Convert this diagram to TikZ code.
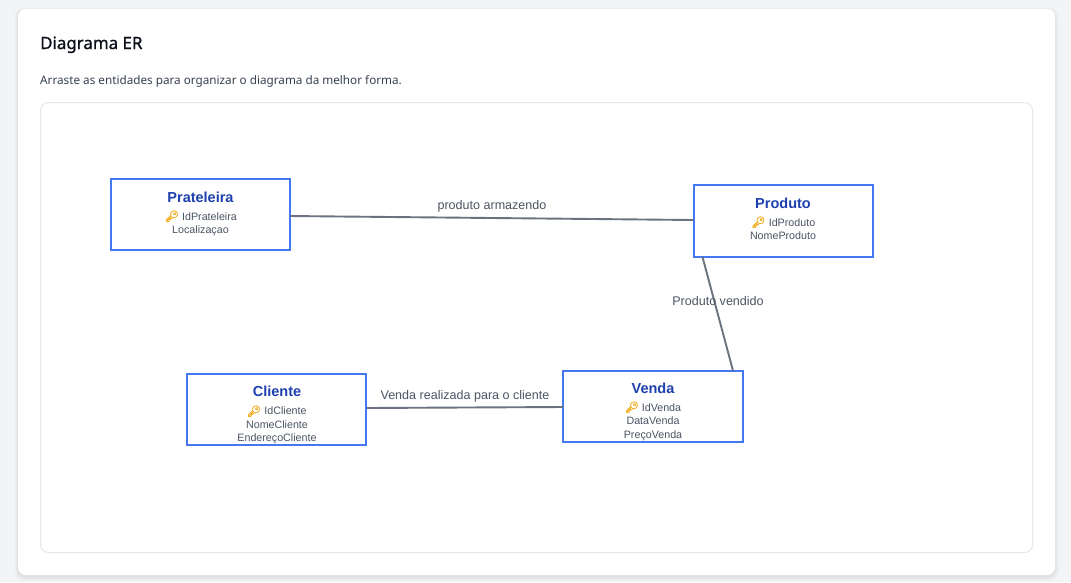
\documentclass[tikz,border=0pt]{standalone}
\usepackage{fontspec}
\setmainfont{Liberation Sans}
\newfontfamily\uifont{Noto Sans}
\newfontfamily\headfont[FakeBold=1]{Noto Sans}
\newfontfamily\emojifont[FakeBold=2.5]{Noto Emoji}
\definecolor{pagebg}{HTML}{F3F4F6}
\definecolor{panelline}{HTML}{E5E7EB}
\definecolor{entityline}{HTML}{4478F0}
\definecolor{titleblue}{HTML}{1E40AF}
\definecolor{attrgrey}{HTML}{4B5563}
\definecolor{edgegrey}{HTML}{6B7280}
\definecolor{keyamber}{HTML}{F2B027}
\definecolor{headblack}{HTML}{0B0F19}
\definecolor{subgrey}{HTML}{374151}
\tikzset{
  entity/.style={draw=entityline,line width=2pt,fill=white,minimum width=179.2pt,inner sep=0pt,outer sep=0pt,rectangle},
  enttitle/.style={font=\fontsize{14.5}{16}\selectfont\bfseries,text=titleblue,inner sep=0pt,anchor=base},
  attr/.style={font=\fontsize{10.7}{12}\selectfont,text=attrgrey,inner sep=0pt,anchor=base},
  keyicon/.style={font=\fontsize{11}{12}\selectfont\emojifont,text=keyamber,inner sep=0pt,anchor=base},
  rel/.style={draw=edgegrey,line width=1.9pt},
  rellabel/.style={font=\fontsize{12.55}{14}\selectfont,text=attrgrey,inner sep=0pt,anchor=base},
}
\begin{document}
\begin{tikzpicture}[x=1pt,y=-1pt]
\useasboundingbox (0,0) rectangle (1071,582);
\fill[pagebg] (0,0) rectangle (1071,582);
% card shadow
\foreach \g/\o in {4/0.010,3/0.014,2/0.018,1/0.025}{
  \fill[black,opacity=\o,rounded corners=9pt] (18-\g,9-\g+2) rectangle (1055+\g,575+\g+2);
}
\fill[white,rounded corners=8pt] (18,9) rectangle (1055,575);
\node[font=\fontsize{16.9}{18}\selectfont\headfont,text=headblack,inner sep=0pt,anchor=base west] (heading) at (40,49) {Diagrama ER};
\node[font=\fontsize{11.72}{14}\selectfont\uifont,text=subgrey,inner sep=0pt,anchor=base west] (subhead) at (40,84) {Arraste as entidades para organizar o diagrama da melhor forma.};
\draw[panelline,line width=1pt,fill=white,rounded corners=8pt] (40.5,102.5) rectangle (1032.5,552.5);
% entities
\node[entity,minimum height=71pt] (prateleira) at (200.2,214.5) {};
\node[entity,minimum height=72pt] (produto) at (783.1,221) {};
\node[entity,minimum height=71pt] (cliente) at (276.8,409.5) {};
\node[entity,minimum height=71pt] (venda) at (653,406.2) {};
% connectors
\coordinate (prodfoot) at ([xshift=9pt]produto.south west);
\coordinate (vendatop) at ([xshift=169.6pt]venda.north west);
\draw[rel] ([yshift=-1.5pt]prateleira.east) -- ([yshift=1pt]produto.west);
\draw[rel] (prodfoot) -- (vendatop);
\draw[rel] ([yshift=1.5pt]cliente.east) -- ([yshift=-0.8pt]venda.west);
% relationship labels
\node[rellabel] (l1) at (492,209) {produto armazendo};
\node[rellabel] (l2) at (718,305) {Produto vendido};
\node[rellabel] (l3) at (465,399) {Venda realizada para o cliente};
% Prateleira
\node[enttitle] (t1) at (200.5,202) {Prateleira};
\node[keyicon] (k1) at (172,220) {🔑};
\node[attr] (a11) at (209.5,220) {IdPrateleira};
\node[attr] (a12) at (200.5,233) {Localizaçao};
% Produto
\node[enttitle] (t2) at (783,208) {Produto};
\node[keyicon] (k2) at (758.5,226) {🔑};
\node[attr] (a21) at (792,226) {IdProduto};
\node[attr] (a22) at (783,239) {NomeProduto};
% Cliente
\node[enttitle] (t3) at (277,396.5) {Cliente};
\node[keyicon] (k3) at (254,415) {🔑};
\node[attr] (a31) at (285.5,414.7) {IdCliente};
\node[attr] (a32) at (277,428) {NomeCliente};
\node[attr] (a33) at (277,441.3) {EndereçoCliente};
% Venda
\node[enttitle] (t4) at (653,393) {Venda};
\node[keyicon] (k4) at (632,411) {🔑};
\node[attr] (a41) at (661.5,411) {IdVenda};
\node[attr] (a42) at (653,424.5) {DataVenda};
\node[attr] (a43) at (653,438) {PreçoVenda};
\end{tikzpicture}
\end{document}
